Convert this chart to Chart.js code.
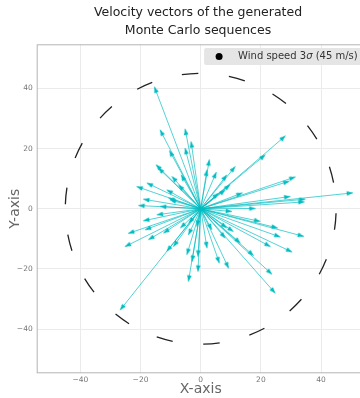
<!DOCTYPE html>
<html>
<head>
<meta charset="utf-8">
<script src="https://cdn.jsdelivr.net/npm/chart.js@4/dist/chart.umd.min.js"></script>
<style>
html, body { margin: 0; padding: 0; background: #fff; overflow: hidden; }
#wrap { width: 396px; height: 398px; }
</style>
</head>
<body>
<div id="wrap"><canvas id="myChart" width="396" height="398"></canvas></div>
<script>
const titleLines = ["Velocity vectors of the generated", "Monte Carlo sequences"];
// arrow tips (m/s), all arrows start at the origin
const vecX = [-15.4, -13.5, -10.4, -5.2, -3.2, -5.2, 2.9, 2.1, 5.2, -14.9, -14.1, -9.6, -6.5, 8.7,
	28.2, 21.5, 11.5, 31.5, 29.5, 50.6, 29.8, 34.8, 34.5, 13.9, 18.2, 9.8, 10.4,
	19.8, 25.6, 34.3, 30.4, 26.5, 23.2, 23.7, 24.8, 17.6, 13.2, 9.3, 6.2, 2.1, -0.9, -0.9, 8.2, 10.9,
	-26.8, -11.3, -25.2, -24.1, -17.4, -18.5, -12.4, -9.1, -4.1, -4.6, -2.9, -6.8, -4.1,
	-21.3, -17.9, -11.3, -19.1, -20.7, -14.6, -19.1, -10.7, -13.5,
	8.2, -1.3, 3.7, -4.0, 8.7, 5.9, -7.4, -10.2];
const vecY = [40.6, 26.3, 19.4, 26.6, 22.4, 20.2, 16.4, 13.0, 12.2, 14.7, 13.6, 10.8, 11.3, 11.3,
	24.3, 18.0, 14.1, 10.6, 9.2, 5.3, 4.1, 3.2, 2.3, 5.3, 0.1, 8.0, -0.9,
	-4.2, -6.4, -9.2, -14.4, -9.4, -12.6, -21.8, -28.1, -15.6, -11.4, -19.8, -18.1, -13.1, -20.9, -15.9, -9.8, -7.6,
	-33.7, -14.2, -12.6, -8.2, -10.3, -7.0, -8.1, -12.6, -24.2, -15.3, -17.6, -6.4, -8.7,
	7.4, 8.6, 6.3, 3.2, 1.1, -2.0, -4.0, 3.6, 0.8,
	6.3, -5.9, -7.0, -4.8, -6.4, 5.2, 8.0, 3.0];
const tickValues = [-40, -20, 0, 20, 40];
const windSpeed3Sigma = 45;
const legendParts = ["Wind speed 3", "σ", " (45 m/s)"];

const fontFamily = "'DejaVu Sans', sans-serif";
const arrowColor = "#00bcc0";

function makeHead() {
	// arrowhead pointing up, its tip at the canvas centre
	var c = document.createElement('canvas');
	c.width = 8;
	c.height = 16;
	var g = c.getContext('2d');
	g.fillStyle = arrowColor;
	g.beginPath();
	g.moveTo(4, 8);
	g.lineTo(1.7, 14.3);
	g.lineTo(6.3, 14.3);
	g.closePath();
	g.fill();
	return c;
}
const head = makeHead();

let datasets = [];
for (let i = 0; i < vecX.length; i++) {
	let rot = 90 - Math.atan2(vecY[i], vecX[i]) * 180 / Math.PI;
	datasets.push({
		data: [{x: 0, y: 0}, {x: vecX[i], y: vecY[i]}],
		showLine: true,
		borderColor: 'rgba(0,188,192,0.85)',
		borderWidth: 0.8,
		pointRadius: [0, 3],
		pointStyle: head,
		pointRotation: [0, rot],
		pointBackgroundColor: arrowColor,
		pointBorderWidth: 0
	});
}

function fmt(v) {
	return v < 0 ? '\u2212' + Math.abs(v) : String(v);
}

const extras = {
	id: 'extras',
	beforeDatasetsDraw(chart) {
		const {ctx, chartArea: a} = chart;
		ctx.save();
		ctx.strokeStyle = '#b4b4b4';
		ctx.lineWidth = 1;
		ctx.strokeRect(a.left + 0.5, a.top + 0.5, a.right - a.left - 1, a.bottom - a.top - 1);
		ctx.restore();
	},
	afterDatasetsDraw(chart) {
		const {ctx, chartArea: a, scales} = chart;
		const cx = scales.x.getPixelForValue(0);
		const cy = scales.y.getPixelForValue(0);
		const r = scales.x.getPixelForValue(windSpeed3Sigma) - cx;
		const period = 2 * Math.PI * r / 18;
		const start = -18.1 * Math.PI / 180;
		ctx.save();
		ctx.strokeStyle = '#222';
		ctx.lineWidth = 1.3;
		ctx.setLineDash([period * 0.35, period * 0.65]);
		ctx.beginPath();
		ctx.arc(cx, cy, r, start, start + 2 * Math.PI);
		ctx.stroke();
		ctx.setLineDash([]);

		// legend box
		ctx.font = '10px ' + fontFamily;
		const w0 = ctx.measureText(legendParts[0]).width;
		ctx.font = 'italic 10px ' + fontFamily;
		const w1 = ctx.measureText(legendParts[1]).width;
		ctx.font = '10px ' + fontFamily;
		const w2 = ctx.measureText(legendParts[2]).width;
		const boxRight = a.right - 1.5;
		const boxLeft = boxRight - (34 + w0 + w1 + w2 + 5.5);
		const boxTop = a.top + 3.7;
		const boxH = 17;
		ctx.fillStyle = '#e5e5e5';
		ctx.beginPath();
		ctx.roundRect(boxLeft, boxTop, boxRight - boxLeft, boxH, 2);
		ctx.fill();
		const my = boxTop + boxH / 2;
		ctx.fillStyle = '#000';
		ctx.beginPath();
		ctx.arc(boxLeft + 15, my, 3.5, 0, 2 * Math.PI);
		ctx.fill();
		ctx.fillStyle = '#333';
		ctx.textBaseline = 'middle';
		let tx = boxLeft + 34;
		ctx.fillText(legendParts[0], tx, my);
		tx += w0;
		ctx.font = 'italic 10px ' + fontFamily;
		ctx.fillText(legendParts[1], tx, my);
		tx += w1;
		ctx.font = '10px ' + fontFamily;
		ctx.fillText(legendParts[2], tx, my);
		ctx.restore();
	}
};

const tickFont = {family: fontFamily, size: 7.5};
const axisTitleFont = {family: fontFamily, size: 14, lineHeight: 1.2};

const config = {
	type: 'scatter',
	data: {datasets: datasets},
	options: {
		responsive: false,
		animation: false,
		devicePixelRatio: 1,
		events: [],
		layout: {padding: 0},
		plugins: {
			legend: {display: false},
			tooltip: {enabled: false},
			title: {
				display: true,
				text: titleLines,
				color: '#222',
				font: {family: fontFamily, size: 12.5, weight: 'normal', lineHeight: 1.44},
				padding: {top: 3.5, bottom: 4.8}
			}
		},
		scales: {
			x: {
				type: 'linear',
				position: 'bottom',
				min: -54.5,
				max: 54.5,
				afterBuildTicks: s => { s.ticks = tickValues.map(v => ({value: v})); },
				afterFit: s => { s.height = 24.7; },
				grid: {color: '#ebebeb', drawTicks: false},
				border: {display: false},
				ticks: {font: tickFont, color: '#777', padding: 2, maxRotation: 0, autoSkip: false, callback: v => fmt(v)},
				title: {display: true, text: 'X-axis', font: axisTitleFont, color: '#666', padding: {top: 0, bottom: 0.6}}
			},
			y: {
				type: 'linear',
				position: 'left',
				min: -54.7,
				max: 54.7,
				afterBuildTicks: s => { s.ticks = tickValues.map(v => ({value: v})); },
				afterFit: s => { s.width = 36.7; },
				grid: {color: '#ebebeb', drawTicks: false},
				border: {display: false},
				ticks: {font: tickFont, color: '#777', padding: 4, autoSkip: false, callback: v => fmt(v)},
				title: {display: true, text: 'Y-axis', font: axisTitleFont, color: '#666', padding: {top: 6.6, bottom: 0}}
			},
			yRight: {
				type: 'linear',
				axis: 'y',
				position: 'right',
				afterFit: s => { s.width = 31.3; },
				grid: {display: false},
				border: {display: false},
				ticks: {display: false}
			}
		}
	},
	plugins: [extras]
};

new Chart(document.getElementById('myChart'), config);
</script>
</body>
</html>
